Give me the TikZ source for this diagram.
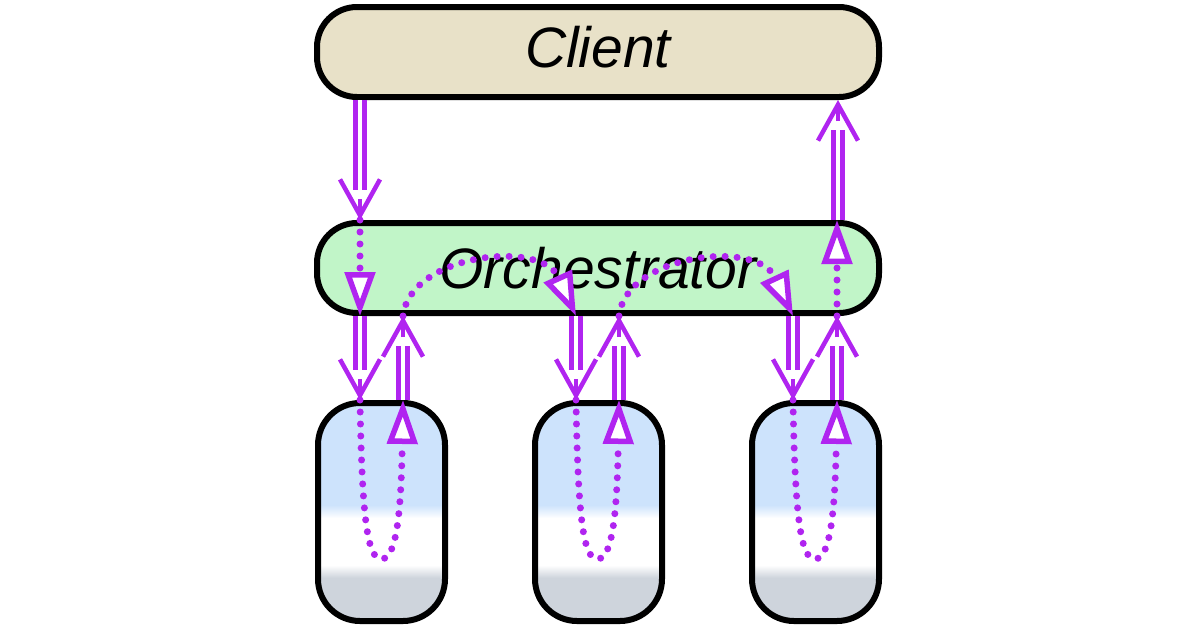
\documentclass[tikz,border=0pt]{standalone}
\usepackage{fontspec}
\setmainfont{Liberation Sans}
\usetikzlibrary{arrows.meta,calc}
\definecolor{clientfill}{RGB}{232,225,200}
\definecolor{orchfill}{RGB}{193,245,200}
\definecolor{svblue}{RGB}{205,227,252}
\definecolor{svgray}{RGB}{206,212,220}
\definecolor{flowc}{RGB}{176,36,240}
\pgfdeclareverticalshading{svcshade}{100bp}{color(0bp)=(svgray); color(34.9bp)=(svgray); color(37.8bp)=(white); color(48.6bp)=(white); color(51.6bp)=(svblue); color(100bp)=(svblue)}
\tikzset{
  wide/.style={draw=black, line width=6pt, rounded corners=40pt, inner sep=0pt,
    minimum width=562pt, minimum height=90pt, font=\fontsize{57pt}{68pt}\selectfont\itshape},
  svc/.style={draw=black, line width=6pt, rounded corners=42pt, inner sep=0pt,
    minimum width=127pt, minimum height=218pt, shade, shading=svcshade},
  flow/.style={draw=flowc, line width=7pt, line cap=round, dash pattern=on 0pt off 12pt,
    -{Triangle[fill=white, length=44pt, width=30pt, line width=5.5pt]}},
  dblline/.style={draw=flowc, line width=4.5pt, double=white, double distance=4.5pt},
  vhead/.style={draw=flowc, line width=4.5pt, -{Straight Barb[length=36pt, width=40pt]}},
}
\newcommand\dblarrow[2]{%
  \draw[dblline] (#1) -- ($(#2)!30pt!(#1)$);
  \draw[vhead] ($(#2)!21pt!(#1)$) -- (#2);
}
\newcommand\uflow[3]{%
  \draw[flow] (#1.north -| #2) .. controls +(2,120) and +(-14,0) ..
    ($(#1.north -| #2)!.5!(#1.north -| #3)+(0,159)$) .. controls +(14,0) and +(-2,120) .. (#1.north -| #3);
}
\begin{document}
\begin{tikzpicture}[x=1pt,y=-1pt]
\fill[white] (0,0) rectangle (1200,630);
\useasboundingbox (0,0) rectangle (1200,630);
\node[wide, fill=clientfill, text depth=10pt] (client) at (598,52) {Client};
\node[wide, fill=orchfill] (orch) at (598,268) {Orchestrator};
\node[svc] (s1) at (381.5,512) {};
\node[svc] (s2) at (598.5,512) {};
\node[svc] (s3) at (815.5,512) {};
\coordinate (d1) at (360,0);
\coordinate (u1) at (403,0);
\coordinate (d2) at (576,0);
\coordinate (u2) at (619,0);
\coordinate (d3) at (793,0);
\coordinate (u3) at (837,0);
\coordinate (r) at (838,0);
% dotted flow
\draw[flow] (orch.north -| d1) -- (orch.south -| d1);
\uflow{s1}{d1}{u1}
\draw[flow] (orch.south -| u1) .. controls +(7,-62) and +(-35,-77) .. (orch.south -| d2);
\uflow{s2}{d2}{u2}
\draw[flow] (orch.south -| u2) .. controls +(7,-62) and +(-36,-77) .. (orch.south -| d3);
\uflow{s3}{d3}{u3}
\draw[flow] (orch.south -| u3) -- (orch.north -| u3);
% double arrows
\dblarrow{client.south -| d1}{orch.north -| d1}
\dblarrow{orch.south -| d1}{s1.north -| d1}
\dblarrow{s1.north -| u1}{orch.south -| u1}
\dblarrow{orch.south -| d2}{s2.north -| d2}
\dblarrow{s2.north -| u2}{orch.south -| u2}
\dblarrow{orch.south -| d3}{s3.north -| d3}
\dblarrow{s3.north -| u3}{orch.south -| u3}
\dblarrow{orch.north -| r}{client.south -| r}
\end{tikzpicture}
\end{document}
